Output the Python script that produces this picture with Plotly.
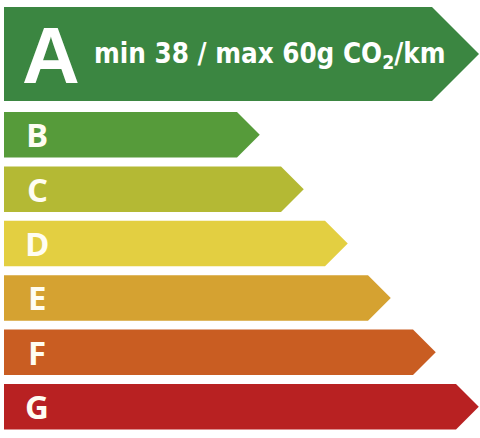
import plotly.graph_objects as go

# energy classes, top to bottom
classes = ['A', 'B', 'C', 'D', 'E', 'F', 'G']
# end of the straight part of each arrow (scale 0..480)
lengths = [432, 237, 281, 325, 368, 413, 456]
colors = ['#3b8641', '#569b3a', '#b4b934', '#e3cf41', '#d5a231', '#c95d22', '#b82122']
headline = 'min 38 / max 60g CO<sub>2</sub>/km'


def arrow(fig, x0, x1, y0, y1, color):
    half = (y1 - y0) / 2
    xs = [x0, x1, x1 + half, x1, x0, x0]
    ys = [y0, y0, y0 + half, y1, y1, y0]
    fig.add_trace(go.Scatter(x=xs, y=ys, mode='lines', fill='toself',
                             fillcolor=color, line=dict(width=0, color=color),
                             hoverinfo='skip'))


fig = go.Figure()

for i, (c, l, col) in enumerate(zip(classes, lengths, colors)):
    if i == 0:
        y0, y1 = 7, 101
    else:
        y0 = 112 + (i - 1) * 54.4
        y1 = y0 + 45.5
    arrow(fig, 4, l, y0, y1, col)
    if i == 0:
        fig.add_annotation(x=51, y=(y0 + y1) / 2 + 1, text=c, showarrow=False,
                           font=dict(family='Liberation Sans', size=80, color='white', weight='bold'),
                           xanchor='center', yanchor='middle')
        fig.add_annotation(x=92, y=(y0 + y1) / 2 + 1, text=headline, showarrow=False,
                           font=dict(family='DejaVu Sans Condensed', size=27.5, color='white', weight='bold'),
                           xanchor='left', yanchor='middle')
    else:
        fig.add_annotation(x=37, y=(y0 + y1) / 2, text=c, showarrow=False,
                           font=dict(family='Open Sans', size=33, color='#fffdf2', weight='bold'),
                           xanchor='center', yanchor='middle')

fig.update_layout(
    width=480, height=438,
    margin=dict(l=0, r=0, t=0, b=0),
    paper_bgcolor='white', plot_bgcolor='white',
    showlegend=False,
    xaxis=dict(range=[0, 480], visible=False, fixedrange=True),
    yaxis=dict(range=[438, 0], visible=False, fixedrange=True),
)

# drop the default 8px page margin so the figure fills the window
fig.write_html('out.html', config={'displayModeBar': False},
               post_script="document.body.style.margin='0';document.body.style.overflow='hidden';")
